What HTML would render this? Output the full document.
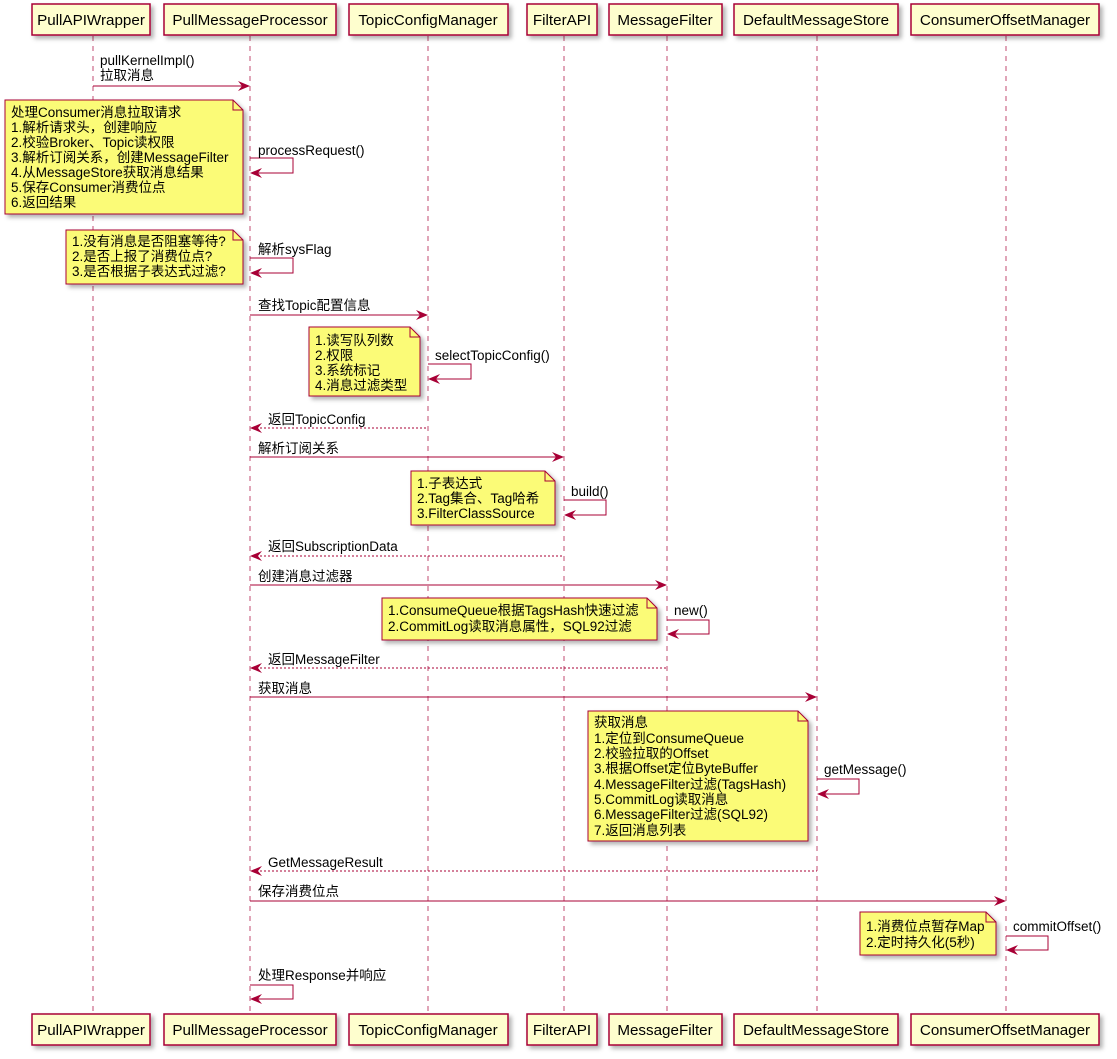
<!DOCTYPE html>
<html><head><meta charset="utf-8"><style>
html,body{margin:0;padding:0;background:#fff;}
svg{display:block;font-family:"Liberation Sans","Noto Sans CJK SC",sans-serif;font-size:13.5px;}
</style></head><body>
<svg width="1117" height="1059" viewBox="0 0 1117 1059" xmlns="http://www.w3.org/2000/svg">
<defs>
<filter id="sh" x="-10%" y="-10%" width="130%" height="140%"><feDropShadow dx="3" dy="3" stdDeviation="2" flood-color="#000" flood-opacity="0.3"/></filter>
</defs>
<g stroke="#A80036" stroke-width="1" stroke-dasharray="5,5" opacity="0.7">
<line x1="93" y1="36" x2="93" y2="1014"/>
<line x1="250" y1="36" x2="250" y2="1014"/>
<line x1="428" y1="36" x2="428" y2="1014"/>
<line x1="564" y1="36" x2="564" y2="1014"/>
<line x1="667" y1="36" x2="667" y2="1014"/>
<line x1="817" y1="36" x2="817" y2="1014"/>
<line x1="1006" y1="36" x2="1006" y2="1014"/>
</g>
<g fill="#FEFECE" stroke="#A80036" stroke-width="1.5" filter="url(#sh)">
<rect x="32" y="4" width="118" height="31"/><rect x="164" y="4" width="172" height="31"/>
<rect x="349" y="4" width="159" height="31"/><rect x="527" y="4" width="70" height="31"/>
<rect x="609" y="4" width="113" height="31"/><rect x="734" y="4" width="164" height="31"/>
<rect x="911" y="4" width="188" height="31"/>
<rect x="32" y="1014" width="118" height="31"/><rect x="164" y="1014" width="172" height="31"/>
<rect x="349" y="1014" width="159" height="31"/><rect x="527" y="1014" width="70" height="31"/>
<rect x="609" y="1014" width="113" height="31"/><rect x="734" y="1014" width="164" height="31"/>
<rect x="911" y="1014" width="188" height="31"/>
</g>
<g font-size="15.2" text-anchor="middle" fill="#000">
<text x="91" y="25">PullAPIWrapper</text><text x="250" y="25">PullMessageProcessor</text>
<text x="428" y="25">TopicConfigManager</text><text x="562" y="25">FilterAPI</text>
<text x="665" y="25">MessageFilter</text><text x="816" y="25">DefaultMessageStore</text>
<text x="1005" y="25">ConsumerOffsetManager</text>
<text x="91" y="1035">PullAPIWrapper</text><text x="250" y="1035">PullMessageProcessor</text>
<text x="428" y="1035">TopicConfigManager</text><text x="562" y="1035">FilterAPI</text>
<text x="665" y="1035">MessageFilter</text><text x="816" y="1035">DefaultMessageStore</text>
<text x="1005" y="1035">ConsumerOffsetManager</text>
</g>
<g fill="#FBFB77" stroke="#A80036" stroke-width="1" filter="url(#sh)">
<path d="M5,100 H233 L243,110 V214 H5 Z"/>
<path d="M66,230 H233 L243,240 V284 H66 Z"/>
<path d="M309,327 H410 L420,337 V396 H309 Z"/>
<path d="M411,471 H545 L555,481 V525 H411 Z"/>
<path d="M382,598 H647 L657,608 V640 H382 Z"/>
<path d="M588,711 H798 L808,721 V841 H588 Z"/>
<path d="M860,912 H986 L996,922 V955 H860 Z"/>
</g>
<g fill="none" stroke="#A80036" stroke-width="1">
<path d="M233,100 V110 H243"/><path d="M233,230 V240 H243"/><path d="M410,327 V337 H420"/>
<path d="M545,471 V481 H555"/><path d="M647,598 V608 H657"/><path d="M798,711 V721 H808"/><path d="M986,912 V922 H996"/>
</g>
<g fill="#000">
<text x="11" y="117">处理Consumer消息拉取请求</text><text x="11" y="132">1.解析请求头，创建响应</text>
<text x="11" y="147">2.校验Broker、Topic读权限</text><text x="11" y="162">3.解析订阅关系，创建MessageFilter</text>
<text x="11" y="177">4.从MessageStore获取消息结果</text><text x="11" y="192">5.保存Consumer消费位点</text>
<text x="11" y="207">6.返回结果</text>
<text x="72" y="246">1.没有消息是否阻塞等待?</text><text x="72" y="261">2.是否上报了消费位点?</text><text x="72" y="276">3.是否根据子表达式过滤?</text>
<text x="315" y="345">1.读写队列数</text><text x="315" y="360">2.权限</text><text x="315" y="375">3.系统标记</text><text x="315" y="390">4.消息过滤类型</text>
<text x="417" y="488">1.子表达式</text><text x="417" y="503">2.Tag集合、Tag哈希</text><text x="417" y="518">3.FilterClassSource</text>
<text x="388" y="615">1.ConsumeQueue根据TagsHash快速过滤</text><text x="388" y="631">2.CommitLog读取消息属性，SQL92过滤</text>
<text x="594" y="727">获取消息</text><text x="594" y="743">1.定位到ConsumeQueue</text><text x="594" y="758">2.校验拉取的Offset</text>
<text x="594" y="773">3.根据Offset定位ByteBuffer</text><text x="594" y="789">4.MessageFilter过滤(TagsHash)</text>
<text x="594" y="804">5.CommitLog读取消息</text><text x="594" y="819">6.MessageFilter过滤(SQL92)</text><text x="594" y="835">7.返回消息列表</text>
<text x="866" y="931">1.消费位点暂存Map</text><text x="866" y="947">2.定时持久化(5秒)</text>
</g>
<g stroke="#A80036" stroke-width="1" fill="none">
<line x1="93" y1="86" x2="248" y2="86"/>
<polyline points="250,158 293,158 293,173 252,173"/>
<polyline points="250,258 293,258 293,273 252,273"/>
<line x1="250" y1="315" x2="426" y2="315"/>
<polyline points="428,364 471,364 471,379 430,379"/>
<line x1="252" y1="428" x2="428" y2="428" stroke-dasharray="2,2"/>
<line x1="250" y1="457" x2="562" y2="457"/>
<polyline points="564,500 606,500 606,515 566,515"/>
<line x1="252" y1="556" x2="564" y2="556" stroke-dasharray="2,2"/>
<line x1="250" y1="585" x2="665" y2="585"/>
<polyline points="667,620 709,620 709,634 669,634"/>
<line x1="252" y1="668" x2="667" y2="668" stroke-dasharray="2,2"/>
<line x1="250" y1="697" x2="815" y2="697"/>
<polyline points="817,779 859,779 859,794 819,794"/>
<line x1="252" y1="871" x2="817" y2="871" stroke-dasharray="2,2"/>
<line x1="250" y1="901" x2="1004" y2="901"/>
<polyline points="1006,936 1048,936 1048,950 1008,950"/>
<polyline points="250,985 293,985 293,999 252,999"/>
</g>
<g fill="#A80036">
<polygon points="250,86 238,81 242,86 238,91"/>
<polygon points="250,173 262,168 258,173 262,178"/>
<polygon points="250,273 262,268 258,273 262,278"/>
<polygon points="428,315 416,310 420,315 416,320"/>
<polygon points="428,379 440,374 436,379 440,384"/>
<polygon points="250,428 262,423 258,428 262,433"/>
<polygon points="564,457 552,452 556,457 552,462"/>
<polygon points="564,515 576,510 572,515 576,520"/>
<polygon points="250,556 262,551 258,556 262,561"/>
<polygon points="667,585 655,580 659,585 655,590"/>
<polygon points="667,634 679,629 675,634 679,639"/>
<polygon points="250,668 262,663 258,668 262,673"/>
<polygon points="817,697 805,692 809,697 805,702"/>
<polygon points="817,794 829,789 825,794 829,799"/>
<polygon points="250,871 262,866 258,871 262,876"/>
<polygon points="1006,901 994,896 998,901 994,906"/>
<polygon points="1006,950 1018,945 1014,950 1018,955"/>
<polygon points="250,999 262,994 258,999 262,1004"/>
</g>
<g fill="#000">
<text x="100" y="65">pullKernelImpl()</text><text x="100" y="80">拉取消息</text>
<text x="258" y="155">processRequest()</text>
<text x="258" y="254">解析sysFlag</text>
<text x="258" y="310">查找Topic配置信息</text>
<text x="435" y="360">selectTopicConfig()</text>
<text x="268" y="424">返回TopicConfig</text>
<text x="258" y="453">解析订阅关系</text>
<text x="571" y="496">build()</text>
<text x="268" y="551">返回SubscriptionData</text>
<text x="258" y="581">创建消息过滤器</text>
<text x="674" y="615">new()</text>
<text x="268" y="664">返回MessageFilter</text>
<text x="258" y="693">获取消息</text>
<text x="824" y="774">getMessage()</text>
<text x="268" y="867">GetMessageResult</text>
<text x="258" y="896">保存消费位点</text>
<text x="1013" y="931">commitOffset()</text>
<text x="258" y="980">处理Response并响应</text>
</g>
</svg>
</body></html>
